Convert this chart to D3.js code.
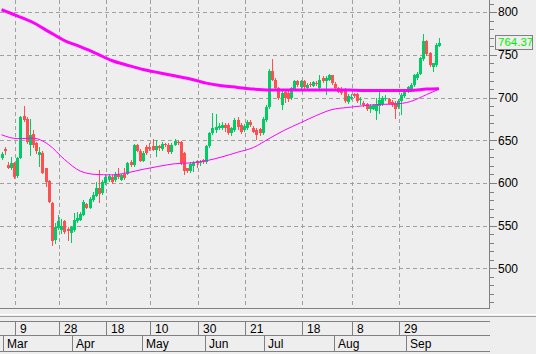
<!DOCTYPE html>
<html>
<head>
<meta charset="utf-8">
<script src="https://cdn.jsdelivr.net/npm/d3@7"></script>
<style>
body { margin: 0; background: #eeeeee; }
text { font-family: "Liberation Sans Narrow", "Arial Narrow", "Liberation Sans", Arial, sans-serif; font-size: 12px; fill: #000; }
</style>
</head>
<body>
<script>
// daily bars, one entry per trading day
const opens = [629,640,621,617,623,608,629,678,675,644,
657,647,633,635,617,602,576,533,547,545,
556,546,541,545,556,557,563,575,571,580,
585,594,588,600,603,607,604,610,604,610,
611,624,621,644,638,626,642,642,643,639,
643,640,646,645,636,645,648,648,635,617,
614,620,626,623,627,624,643,658,662,664,
664,668,668,658,662,674,668,662,664,672,
665,662,663,658,674,689,731,721,711,691,
707,706,699,710,719,712,719,711,716,714,
717,711,723,719,721,726,716,711,710,710,
695,699,704,704,697,694,693,687,687,684,
690,693,698,698,695,694,689,696,702,707,
710,715,723,728,745,766,752,736,738,761];

const highs = [636,642,624,630,625,630,678,690,677,675,
662,648,642,637,618,604,578,553,562,558,
557,548,550,565,566,566,580,577,583,589,
601,615,603,609,611,609,613,617,611,617,
625,627,646,646,640,637,644,647,652,650,
645,648,647,647,647,651,650,649,636,618,
624,626,627,627,628,645,660,682,681,670,
672,670,670,666,676,677,670,669,674,674,
667,664,665,677,691,733,745,723,713,709,
709,708,713,721,721,721,721,717,718,720,
719,727,725,725,728,727,718,713,712,711,
704,704,706,706,701,696,694,693,693,699,
707,702,703,700,697,696,698,705,710,714,
717,728,730,748,775,767,754,741,764,770];

const lows = [627,633,616,615,605,606,628,672,646,632,
641,634,619,610,595,576,526,528,545,540,
540,532,530,543,553,555,561,569,570,578,
583,577,586,598,601,599,601,605,602,603,
609,619,619,636,624,624,633,638,637,631,
638,638,642,634,634,643,645,621,609,612,
612,613,618,620,622,622,641,656,659,662,
662,660,656,655,660,662,657,660,662,666,
658,650,655,656,672,687,719,708,697,686,
694,695,697,708,713,710,710,709,713,712,
714,709,717,703,719,715,709,705,703,694,
692,697,700,694,691,689,684,682,685,674,
681,690,696,691,689,675,687,680,700,705,
708,713,721,726,743,749,736,730,736,759];

const closes = [634,637,618,623,607,629,677,674,648,656,
645,638,636,612,601,578,532,548,556,550,
542,544,548,557,559,564,578,571,581,586,
594,587,601,607,608,601,611,607,609,606,
623,621,644,638,626,635,635,640,639,643,
641,646,644,636,645,649,647,623,614,614,
622,623,623,625,624,643,658,664,666,667,
668,664,658,664,674,666,660,667,672,668,
660,656,658,675,689,731,721,711,700,706,
699,698,711,719,715,719,712,715,715,718,
716,721,719,723,726,717,711,707,705,696,
702,701,702,696,698,691,687,690,691,693,
697,700,700,693,691,687,696,703,708,712,
715,726,728,746,766,751,738,740,762,764.37];

// moving averages read at every 5th bar
const maIdx = [0,5,10,15,20,25,30,35,40,45,50,55,60,65,70,75,80,85,90,95,100,105,110,115,120,125,130,135,139];
const ma200 = [803,795.8,788,777.4,766.9,759.7,752,743.5,738,733,729.2,725.6,721.9,717,714,712,710,709,709,709,709,709,709,708.5,708.5,708.5,708.5,710,710.5];
const ma50 = [656.5,652,652.5,644.8,627.6,614,610,609.5,612,616,619.5,622.5,623.5,626,630.5,636,641.5,652,662,670.5,679,686,688.5,690.5,692,692.5,695.5,703.5,710];

const priceTicks = [500,550,600,650,700,750,800];
const dayTickIdx = [4,18,33,47,62,77,95,111,126];
const dayTickLabels = ["9","28","18","10","30","21","18","8","29"];
const monthIdx = [1,23,45,65,84,106,129];
const monthLabels = ["Mar","Apr","May","Jun","Jul","Aug","Sep"];
const lastPrice = 764.37;

const width = 536, height = 354;
const plotW = 489, plotH = 308;
const upCol = '#00cc66', downCol = '#ff5050', maCol = '#ff00ff';
const axisCol = '#808080', gridCol = '#a0a0a0';

const svg = d3.select('body').append('svg')
  .attr('width', width)
  .attr('height', height);

svg.append('rect').attr('width', width).attr('height', height).attr('fill', '#eeeeee');

const x = d3.scaleLinear().domain([0, closes.length - 1]).range([1.5, 439]);
const y = d3.scaleLinear().domain([453.5, 814.4]).range([plotH, 0]);
const step = x(1) - x(0);
const px = v => Math.round(v) + 0.5;

svg.append('defs').append('clipPath').attr('id', 'plot')
  .append('rect').attr('width', plotW).attr('height', plotH);

// dashed grid
const grid = svg.append('g')
  .attr('stroke', gridCol)
  .attr('stroke-dasharray', '4,3')
  .attr('shape-rendering', 'crispEdges');
grid.selectAll('line.h').data(priceTicks).join('line')
  .attr('class', 'h')
  .attr('x1', 0).attr('x2', plotW)
  .attr('y1', d => px(y(d))).attr('y2', d => px(y(d)));
grid.selectAll('line.v').data(dayTickIdx).join('line')
  .attr('class', 'v')
  .attr('x1', d => px(x(d) + 1)).attr('x2', d => px(x(d) + 1))
  .attr('y1', 0).attr('y2', plotH);

// candles
const bars = d3.range(closes.length).map(i => ({i, o: opens[i], h: highs[i], l: lows[i], c: closes[i]}));
const candles = svg.append('g').attr('clip-path', 'url(#plot)').attr('shape-rendering', 'crispEdges');

candles.selectAll('line').data(bars).join('line')
  .attr('x1', d => px(x(d.i))).attr('x2', d => px(x(d.i)))
  .attr('y1', d => y(d.h)).attr('y2', d => y(d.l))
  .attr('stroke', d => d.c >= d.o ? upCol : downCol);

candles.selectAll('rect').data(bars).join('rect')
  .attr('x', d => Math.round(x(d.i)) - 1)
  .attr('width', 3)
  .attr('y', d => y(Math.max(d.o, d.c)))
  .attr('height', d => Math.max(1, Math.abs(y(d.o) - y(d.c))))
  .attr('fill', d => d.c >= d.o ? upCol : downCol);

// moving averages
const maLine = d3.line().x(d => x(d[0])).y(d => y(d[1])).curve(d3.curveMonotoneX);
const maG = svg.append('g').attr('clip-path', 'url(#plot)').attr('fill', 'none').attr('stroke', maCol);
maG.append('path').attr('d', maLine(maIdx.map((d, k) => [d, ma200[k]]))).attr('stroke-width', 3);
maG.append('path').attr('d', maLine(maIdx.map((d, k) => [d, ma50[k]]))).attr('stroke-width', 1);

// right price axis
const axis = svg.append('g').attr('stroke', axisCol).attr('shape-rendering', 'crispEdges');
axis.append('line').attr('x1', px(plotW)).attr('x2', px(plotW)).attr('y1', 0).attr('y2', plotH + 1);
axis.append('line').attr('x1', 0).attr('x2', px(plotW)).attr('y1', px(plotH)).attr('y2', px(plotH));

const minorTicks = d3.range(460, 820, 10).filter(v => y(v) >= 0 && y(v) <= plotH);
axis.selectAll('line.t').data(minorTicks).join('line')
  .attr('class', 't')
  .attr('x1', plotW).attr('x2', d => plotW + (d % 50 === 0 ? 8 : 5))
  .attr('y1', d => px(y(d))).attr('y2', d => px(y(d)));

svg.append('g').selectAll('text').data(priceTicks).join('text')
  .attr('x', 498).attr('y', d => y(d)).attr('dy', '0.35em')
  .text(d => d);

// last price box
svg.append('rect')
  .attr('x', 495.5).attr('y', Math.round(y(lastPrice)) - 7.5)
  .attr('width', 37).attr('height', 14)
  .attr('fill', '#eeeeee').attr('stroke', axisCol);
svg.append('text')
  .attr('x', 498).attr('y', y(lastPrice)).attr('dy', '0.33em')
  .style('fill', '#00ee00').style('font-size', '11.5px')
  .text(lastPrice.toFixed(2));

// date rows
const rows = svg.append('g').attr('shape-rendering', 'crispEdges');
rows.append('line').attr('x1', 0).attr('x2', width).attr('y1', 314.5).attr('y2', 314.5).attr('stroke', '#ffffff');
rows.append('line').attr('x1', 0).attr('x2', width).attr('y1', 316.5).attr('y2', 316.5).attr('stroke', '#a0a0a0');
[321.5, 335.5, 351.5].forEach(yy => {
  rows.append('line').attr('x1', 0).attr('x2', px(plotW)).attr('y1', yy).attr('y2', yy).attr('stroke', axisCol);
});

rows.selectAll('line.d').data(dayTickIdx).join('line')
  .attr('class', 'd')
  .attr('x1', d => px(x(d) + 1)).attr('x2', d => px(x(d) + 1))
  .attr('y1', 321.5).attr('y2', 335.5).attr('stroke', axisCol);
svg.append('g').selectAll('text').data(dayTickIdx).join('text')
  .attr('x', d => Math.round(x(d) + 1) + 5).attr('y', 333)
  .text((d, k) => dayTickLabels[k]);

rows.selectAll('line.m').data(monthIdx).join('line')
  .attr('class', 'm')
  .attr('x1', d => px(x(d) - step / 2)).attr('x2', d => px(x(d) - step / 2))
  .attr('y1', 335.5).attr('y2', 351.5).attr('stroke', axisCol);
svg.append('g').selectAll('text').data(monthIdx).join('text')
  .attr('x', d => Math.round(x(d) - step / 2) + 4).attr('y', 348)
  .text((d, k) => monthLabels[k]);
</script>
</body>
</html>
